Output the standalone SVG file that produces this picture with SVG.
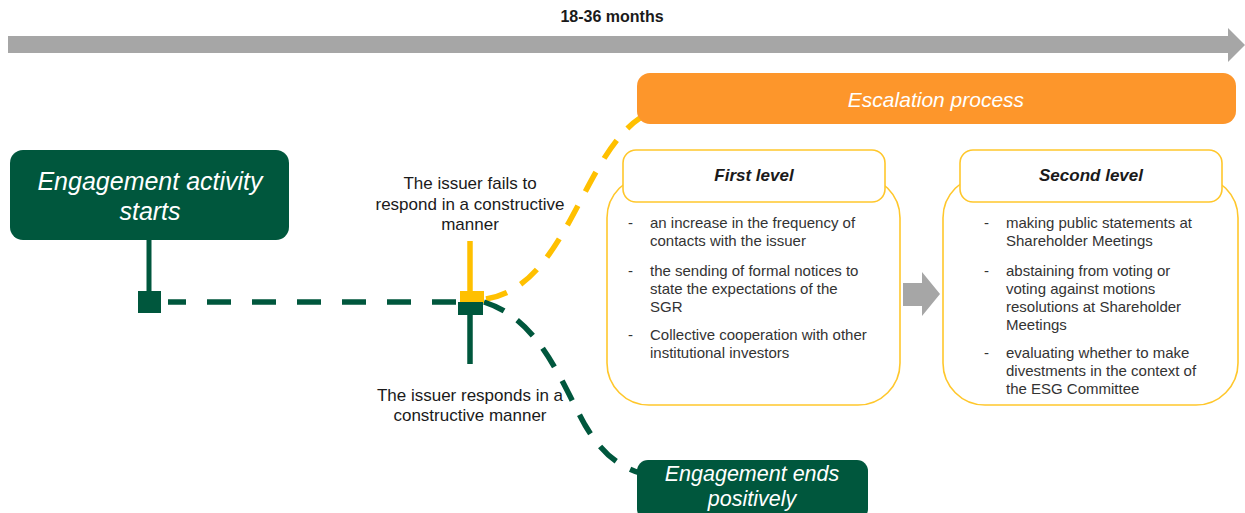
<svg xmlns="http://www.w3.org/2000/svg" width="1245" height="513" viewBox="0 0 1245 513">
<style>
.t{font-family:"Liberation Sans",Arial,sans-serif}
.wi{font-family:"Liberation Sans",Arial,sans-serif;font-style:italic;fill:#fff;text-anchor:middle}
.lbl{font-family:"Liberation Sans",Arial,sans-serif;font-size:17px;fill:#1a1a1a;text-anchor:middle}
.body{font-family:"Liberation Sans",Arial,sans-serif;font-size:15px;fill:#333}
.hdr{font-family:"Liberation Sans",Arial,sans-serif;font-size:17px;font-weight:bold;font-style:italic;fill:#1a1a1a;text-anchor:middle}
.green{fill:#00573D}
.ybox{fill:#fff;stroke:#FFC72C;stroke-width:1.6}
.dg{fill:none;stroke:#00573D;stroke-width:5.5;stroke-dasharray:24 21}
.dgc{fill:none;stroke:#00573D;stroke-width:5.5;stroke-dasharray:22 16}
.dy{fill:none;stroke:#FFC000;stroke-width:5.5;stroke-dasharray:22 16}
</style>
<rect width="1245" height="513" fill="#fff"/>

<g id="timeline">
<text class="t" x="612" y="22" font-size="16" font-weight="bold" text-anchor="middle" fill="#1a1a1a">18-36 months</text>
<polygon points="8,36 1228,36 1228,28 1245,45 1228,62 1228,53 8,53" fill="#A6A6A6"/>
</g>

<g id="connectors">
<line x1="149" y1="240" x2="149" y2="292" stroke="#00573D" stroke-width="5"/>
<path class="dg" d="M168 302 H458" stroke-dashoffset="6"/>
<line x1="470" y1="241" x2="470" y2="292" stroke="#FFC000" stroke-width="5.5"/>
<line x1="470" y1="314" x2="470" y2="364" stroke="#00573D" stroke-width="5.5"/>
<path class="dy" d="M486 299 C545 290 570 215 600 165 C612 145 625 128 640 118"/>
<path class="dgc" d="M484 302 C540 320 560 380 585 425 C600 450 615 465 640 473"/>
<polygon points="903,283 922,283 922,272 940,294 922,316 922,306 903,306" fill="#A6A6A6"/>
</g>

<g id="start">
<rect class="green" x="10" y="150" width="279" height="90" rx="13"/>
<text class="wi" x="150" y="190" font-size="25">Engagement activity</text>
<text class="wi" x="150" y="220" font-size="25">starts</text>
<rect class="green" x="138" y="291" width="23" height="22"/>
</g>

<g id="junction">
<rect x="460" y="291" width="24" height="12" fill="#FFC000"/>
<rect class="green" x="458" y="302" width="25" height="13"/>
</g>

<g id="label-fail">
<text class="lbl" x="470" y="189">The issuer fails to</text>
<text class="lbl" x="470" y="210">respond in a constructive</text>
<text class="lbl" x="470" y="230">manner</text>
</g>

<g id="label-respond">
<text class="lbl" x="470" y="401">The issuer responds in a</text>
<text class="lbl" x="470" y="421">constructive manner</text>
</g>

<g id="escalation">
<rect x="637" y="73" width="599" height="51" rx="13" fill="#FD962B"/>
<text class="wi" x="936" y="107" font-size="21">Escalation process</text>
</g>

<g id="first-level">
<rect class="ybox" x="607" y="176" width="293" height="229" rx="42"/>
<rect class="ybox" x="623" y="150" width="262" height="52" rx="13"/>
<text class="hdr" x="754" y="181">First level</text>
<text class="body" x="628" y="228">-</text>
<text class="body" x="650" y="228">an increase in the frequency of</text>
<text class="body" x="650" y="246">contacts with the issuer</text>
<text class="body" x="628" y="276">-</text>
<text class="body" x="650" y="276">the sending of formal notices to</text>
<text class="body" x="650" y="294">state the expectations of the</text>
<text class="body" x="650" y="312">SGR</text>
<text class="body" x="628" y="340">-</text>
<text class="body" x="650" y="340">Collective cooperation with other</text>
<text class="body" x="650" y="358">institutional investors</text>
</g>

<g id="second-level">
<rect class="ybox" x="943" y="176" width="295" height="229" rx="42"/>
<rect class="ybox" x="960" y="150" width="262" height="52" rx="13"/>
<text class="hdr" x="1091" y="181">Second level</text>
<text class="body" x="984" y="228">-</text>
<text class="body" x="1006" y="228">making public statements at</text>
<text class="body" x="1006" y="246">Shareholder Meetings</text>
<text class="body" x="984" y="276">-</text>
<text class="body" x="1006" y="276">abstaining from voting or</text>
<text class="body" x="1006" y="294">voting against motions</text>
<text class="body" x="1006" y="312">resolutions at Shareholder</text>
<text class="body" x="1006" y="330">Meetings</text>
<text class="body" x="984" y="358">-</text>
<text class="body" x="1006" y="358">evaluating whether to make</text>
<text class="body" x="1006" y="376">divestments in the context of</text>
<text class="body" x="1006" y="394">the ESG Committee</text>
</g>

<g id="end">
<rect class="green" x="637" y="460" width="231" height="60" rx="11"/>
<text class="wi" x="752" y="481" font-size="21.5">Engagement ends</text>
<text class="wi" x="752" y="506" font-size="21.5">positively</text>
</g>
</svg>
